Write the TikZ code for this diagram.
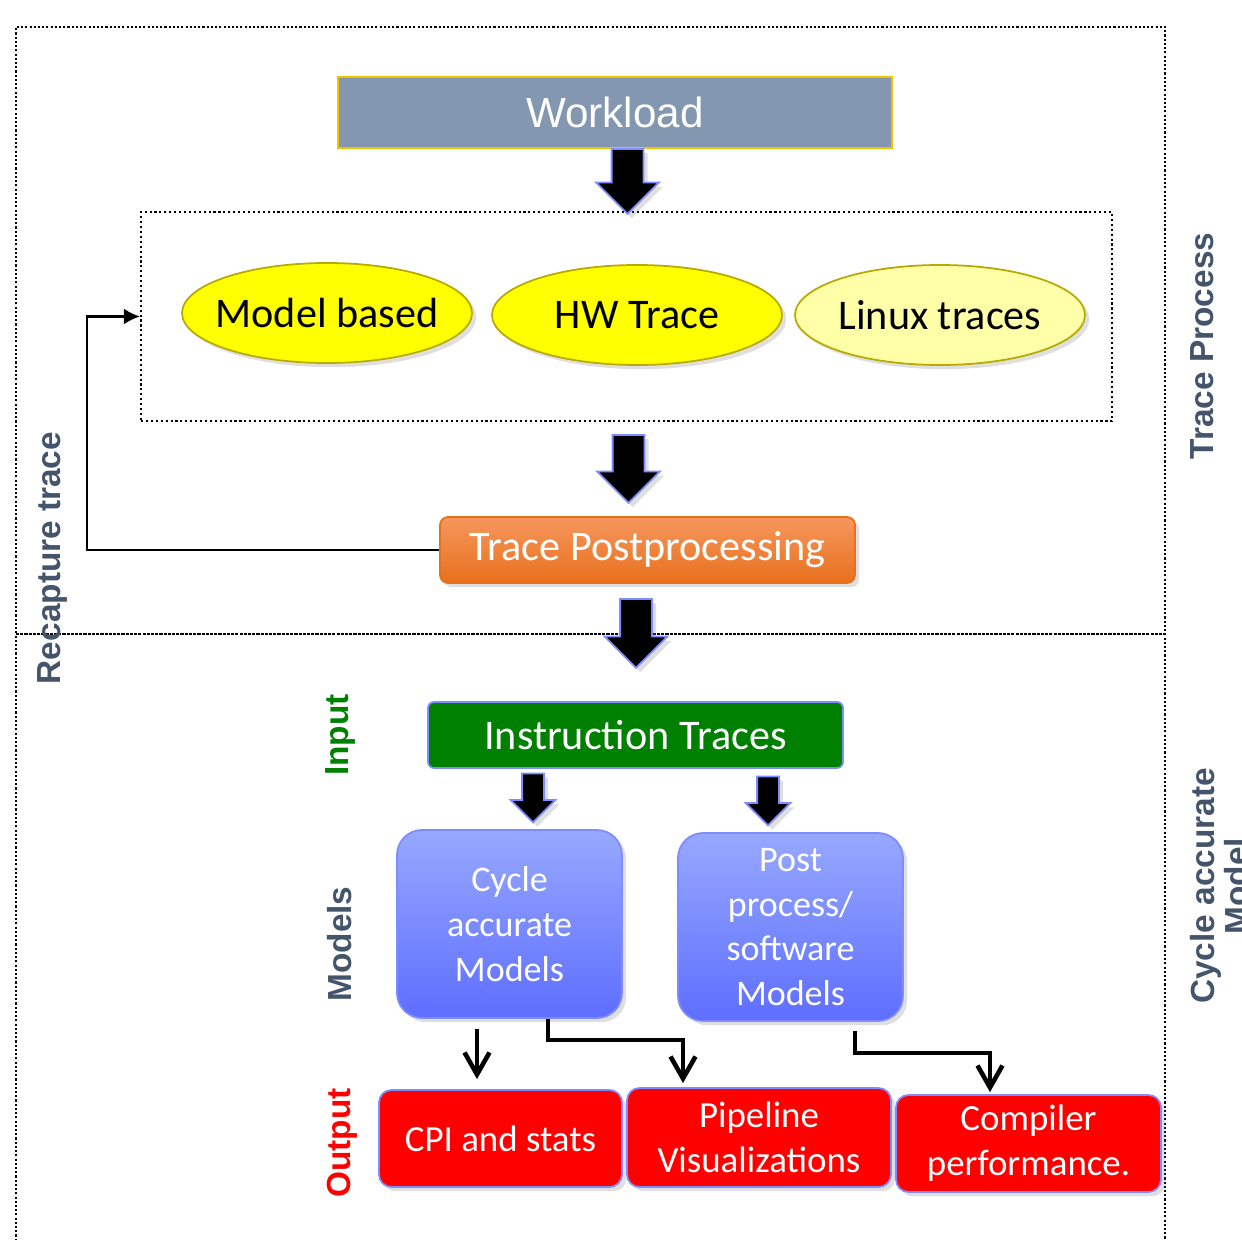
\documentclass[tikz,border=0pt]{standalone}
\usepackage{fontspec}
\setmainfont{Carlito}
\newfontfamily\arialfont{Liberation Sans}
\usetikzlibrary{arrows.meta,positioning,calc,shapes.geometric,shapes.arrows,shadows}

\definecolor{wlgray}{HTML}{8497B0}
\definecolor{wlgold}{HTML}{F2C200}
\definecolor{ellyellow}{HTML}{FFFF00}
\definecolor{ellpale}{HTML}{FFFFA8}
\definecolor{ellborder}{HTML}{B8AA00}
\definecolor{orangetop}{HTML}{F6975E}
\definecolor{orangebot}{HTML}{E8701C}
\definecolor{instgreen}{HTML}{008000}
\definecolor{edgeblue}{HTML}{7F8CFF}
\definecolor{modeltop}{HTML}{97A8FF}
\definecolor{modelbot}{HTML}{5E6EFF}
\definecolor{outred}{HTML}{FF0000}
\definecolor{slate}{HTML}{44546A}

\begin{document}
\begin{tikzpicture}[>=Latex]
  \tikzstyle{bigarrow}=[single arrow,shape border rotate=270,fill=black,draw=edgeblue,line width=1pt,inner sep=0.3cm,minimum width=1.22cm,single arrow head extend=0.31cm,drop shadow={opacity=0.25}]
  \tikzstyle{smallarrow}=[bigarrow,inner sep=0.2cm,minimum width=0.86cm,single arrow head extend=0.23cm,minimum height=0.98cm]
  \tikzstyle{oval}=[ellipse,draw=ellborder,line width=1pt,inner xsep=-0.2cm,minimum width=5.8cm,minimum height=2cm,font=\fontsize{24}{28}\selectfont,drop shadow={opacity=0.25}]
  \tikzstyle{modelbox}=[draw=edgeblue,line width=1pt,rounded corners=0.5cm,top color=modeltop,bottom color=modelbot,minimum width=4.5cm,minimum height=3.76cm,align=center,text=white,font=\fontsize{20.5}{25.5}\selectfont,drop shadow={opacity=0.25}]
  \tikzstyle{outbox}=[draw=edgeblue,line width=1pt,rounded corners=0.25cm,fill=outred,minimum height=1.94cm,align=center,text=white,font=\fontsize{21}{25.5}\selectfont,drop shadow={opacity=0.25}]
  \tikzstyle{sidelabel}=[rotate=90,align=center,font=\arialfont\bfseries\fontsize{19}{19}\selectfont]
  \tikzstyle{conn}=[line width=2.6pt,-{Straight Barb[length=4.4mm,width=5mm]}]

  \useasboundingbox (0,0) rectangle (24.84,-24.8);

  % frames
  \draw[line width=1.2pt,dash pattern=on 1.2pt off 1.2pt] (0.32,-24.9) -- (0.32,-0.54) -- (23.3,-0.54) -- (23.3,-24.9);
  \draw[line width=1.2pt,dash pattern=on 1.8pt off 0.6pt] (0.32,-12.68) -- (23.3,-12.68);

  % trace process
  \node[draw=wlgold,line width=1pt,fill=wlgray,minimum width=11.08cm,minimum height=1.42cm,text=white,font=\arialfont\fontsize{24}{28}\selectfont] (wl) at (12.3,-2.25) {Workload};
  \node[draw,line width=1.2pt,dash pattern=on 1.2pt off 1.6pt,minimum width=19.42cm,minimum height=4.18cm] (src) at (12.53,-6.33) {};
  \node[oval,fill=ellyellow] (model) at (6.54,-6.26) {Model based};
  \node[oval,fill=ellyellow] (hw) at (12.74,-6.3) {HW Trace};
  \node[oval,fill=ellpale] (linux) at (18.8,-6.3) {Linux traces};
  \node[bigarrow,minimum height=1.3cm] (a1) at (12.55,-3.47) {};
  \node[bigarrow,minimum height=1.36cm] (a2) at (12.57,-9.22) {};
  \node[draw=orangebot,line width=1pt,rounded corners=0.16cm,top color=orangetop,bottom color=orangebot,minimum width=8.3cm,minimum height=1.32cm,text=white,font=\fontsize{24}{28}\selectfont,drop shadow={opacity=0.25}] (tp) at (12.95,-11.0) {Trace Postprocessing};
  \node[bigarrow,minimum height=1.38cm] (a3) at (12.72,-12.51) {};
  \coordinate (bend) at (1.74,-11.0);
  \draw[line width=1.5pt,-{Latex[length=3.2mm,width=3.2mm]}] (tp.west) -- (bend) |- (src.west);

  % cycle accurate model
  \node[draw=edgeblue,line width=1pt,rounded corners=0.12cm,fill=instgreen,minimum width=8.3cm,minimum height=1.32cm,text=white,font=\fontsize{24}{28}\selectfont] (inst) at (12.71,-14.7) {Instruction Traces};
  \node[smallarrow] (a4) at (10.66,-15.85) {};
  \node[smallarrow] (a5) at (15.36,-15.91) {};
  \node[modelbox] (cyc) at (10.19,-18.48) {Cycle\\accurate\\Models};
  \node[modelbox] (post) at (15.81,-18.54) {Post\\process/\\software\\Models};
  \node[outbox,minimum width=4.86cm] (cpi) at (10.01,-22.77) {CPI and stats};
  \node[outbox,minimum width=5.28cm,minimum height=1.98cm] (pipe) at (15.18,-22.75) {Pipeline\\Visualizations};
  \node[outbox,minimum width=5.3cm] (comp) at (20.57,-22.87) {Compiler\\performance.};
  \draw[conn,shorten <=0.2cm,shorten >=0.2cm] ([xshift=-0.65cm]cyc.south) -- ([xshift=-0.65cm]cyc.south |- cpi.north);
  \draw[conn,shorten >=0.08cm] ([xshift=0.77cm]cyc.south) -- ++(0,-0.42) -| ([xshift=-1.52cm]pipe.north);
  \draw[conn,shorten <=0.18cm,shorten >=0.04cm] ([xshift=1.29cm]post.south) -- ++(0,-0.62) -| ([xshift=-0.77cm]comp.north);

  % side labels
  \node[sidelabel,text=slate] (recap) at (1.04,-11.16) {Recapture trace};
  \node[sidelabel,text=slate] (tplabel) at (24.04,-6.92) {Trace Process};
  \node[sidelabel,text=slate] (cmlabel) at (24.39,-17.72) {Cycle accurate\\Model};
  \node[sidelabel,text=instgreen] (inlabel) at (6.8,-14.7) {Input};
  \node[sidelabel,text=slate] (mdlabel) at (6.8,-18.88) {Models};
  \node[sidelabel,text=outred] (outlabel) at (6.84,-22.86) {Output};
\end{tikzpicture}
\end{document}
